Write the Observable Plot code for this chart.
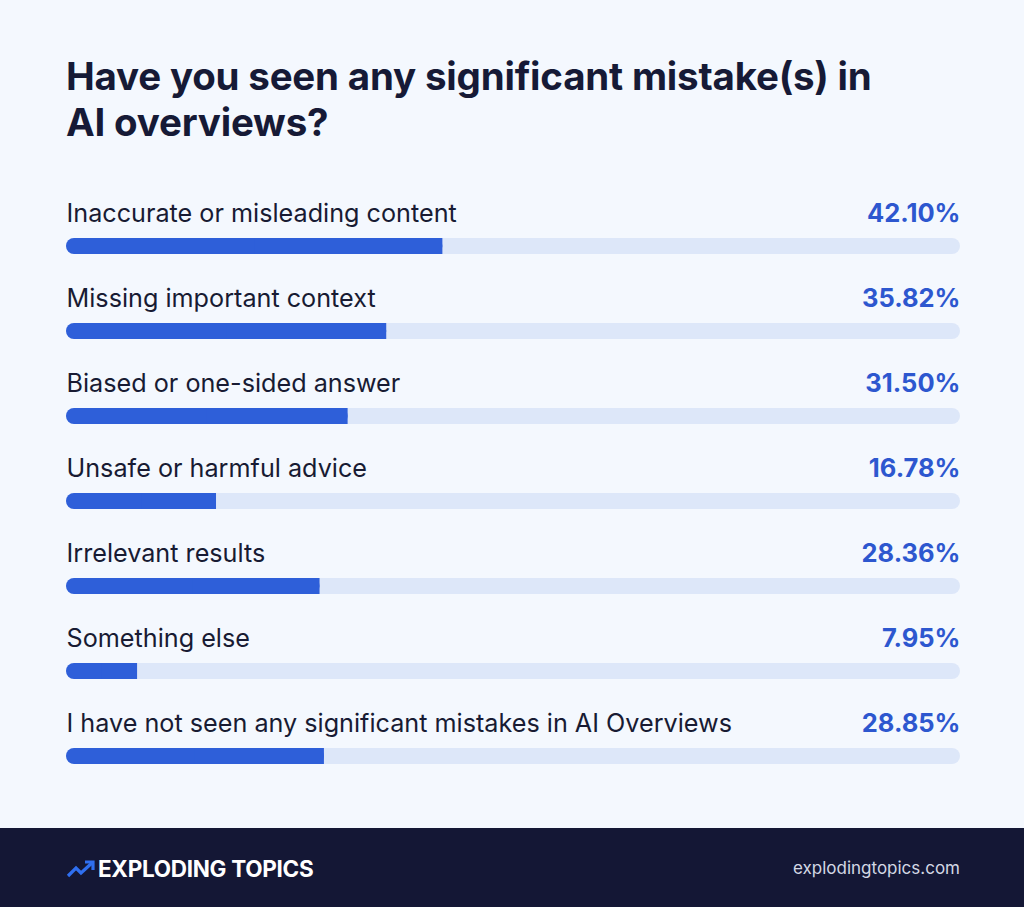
<!DOCTYPE html>
<html>
<head>
<meta charset="utf-8">
<script src="https://cdn.jsdelivr.net/npm/d3@7"></script>
<script src="https://cdn.jsdelivr.net/npm/@observablehq/plot@0.6"></script>
<style>
  html, body { margin: 0; padding: 0; }
  body { width: 1024px; height: 907px; background: #f4f8fe; font-family: Inter, "Noto Sans", sans-serif; position: relative; overflow: hidden; }
  #title { position: absolute; left: 66px; top: 53px; width: 900px; margin: 0; font-size: 38.5px; line-height: 46px; font-weight: 700; color: #161a36; letter-spacing: -0.2px; }
  #chart { position: absolute; left: 0; top: 160px; }
  #footer { position: absolute; left: 0; top: 828px; width: 1024px; height: 79px; background: #141735; }
  #brand { position: absolute; left: 66px; top: 27px; display: flex; align-items: center; color: #fff; font-weight: 700; font-size: 22.5px; letter-spacing: -0.3px; }
  #site { position: absolute; right: 64px; top: 30px; color: #d3d7e4; font-size: 17px; }
</style>
</head>
<body>
<h1 id="title">Have you seen any significant mistake(s) in<br>AI overviews?</h1>
<div id="chart"></div>
<div id="footer">
  <div id="brand"><svg width="32" height="20" viewBox="0 0 32 20"><polyline points="2,17 10,9 15,14 27,3" fill="none" stroke="#2f6ff0" stroke-width="3.2" stroke-linejoin="miter"/><polyline points="19,3 27,3 27,11" fill="none" stroke="#2f6ff0" stroke-width="3.2"/></svg><span>EXPLODING TOPICS</span></div>
  <div id="site">explodingtopics.com</div>
</div>
<script>
const categories = [
  "Inaccurate or misleading content",
  "Missing important context",
  "Biased or one-sided answer",
  "Unsafe or harmful advice",
  "Irrelevant results",
  "Something else",
  "I have not seen any significant mistakes in AI Overviews"
];
const values = [42.10, 35.82, 31.50, 16.78, 28.36, 7.95, 28.85];
const valueLabels = ["42.10%", "35.82%", "31.50%", "16.78%", "28.36%", "7.95%", "28.85%"];

const data = categories.map((c, i) => ({category: c, value: values[i], label: valueLabels[i], full: 100}));

const chart = Plot.plot({
  width: 1024,
  height: 640,
  marginLeft: 66,
  marginRight: 64,
  marginTop: 20,
  marginBottom: 25,
  style: {background: "transparent", fontFamily: "Inter, 'Noto Sans', sans-serif"},
  x: {domain: [0, 100], axis: null},
  y: {domain: categories, axis: null, padding: 0},
  marks: [
    Plot.barX(data, {y: "category", x1: 0, x2: "full", fill: "#dde7f9", rx: 8, insetTop: 58, insetBottom: 11}),
    Plot.barX(data, {y: "category", x1: 0, x2: "value", fill: "#2e5fd9", rx: 8, insetTop: 58, insetBottom: 11}),
    Plot.barX(data, {y: "category", x1: d => d.value / 2, x2: "value", fill: "#2e5fd9", insetTop: 58, insetBottom: 11}),
    Plot.text(data, {y: "category", x: 0, text: "category", textAnchor: "start", dy: -9.5, fontSize: 25.2, fill: "#181b33"}),
    Plot.text(data, {y: "category", x: "full", text: "label", textAnchor: "end", dy: -9.5, fontSize: 25.5, fontWeight: 700, fill: "#2d57cf"})
  ]
});
document.getElementById("chart").appendChild(chart);
</script>
</body>
</html>
